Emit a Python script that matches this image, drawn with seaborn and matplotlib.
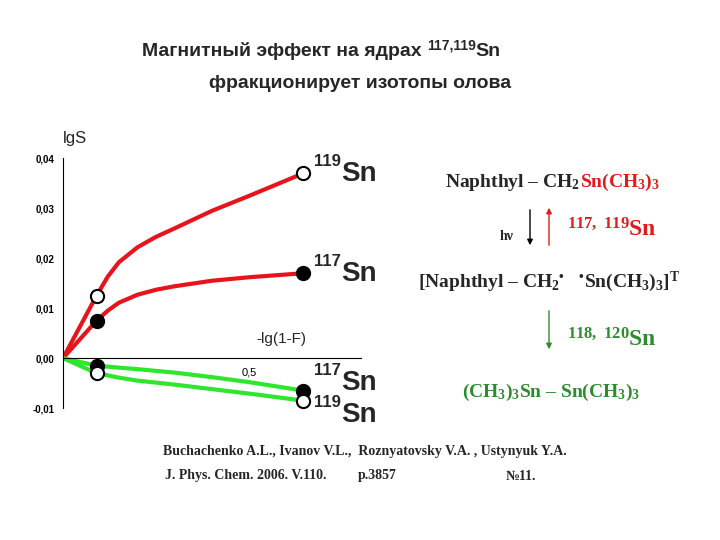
import numpy as np
import matplotlib
matplotlib.use("Agg")
import matplotlib.pyplot as plt
import seaborn as sns

x_red = [0, 0.09, 0.12, 0.15, 0.2, 0.25, 0.3, 0.4, 0.5, 0.645]
s119_red = [0, 0.0125, 0.0163, 0.0192, 0.0222, 0.0243, 0.026, 0.0295, 0.0325, 0.037]
s117_red = [0, 0.0075, 0.0095, 0.0111, 0.0127, 0.0137, 0.0144, 0.0155, 0.0162, 0.017]
x_green = [0, 0.09, 0.15, 0.2, 0.3, 0.4, 0.5, 0.645]
s117_green = [0, -0.0015, -0.0019, -0.0022, -0.0029, -0.0038, -0.0048, -0.0065]
s119_green = [0, -0.003, -0.0039, -0.0045, -0.0053, -0.0062, -0.0071, -0.0085]
marker_idx = [1, -1]
yticks = [-0.01, 0.0, 0.01, 0.02, 0.03, 0.04]
ytick_labels = ["-0,01", "0,00", "0,01", "0,02", "0,03", "0,04"]

sns.set_style("white")
plt.rcParams['font.family'] = ['Liberation Sans', 'DejaVu Sans']
plt.rcParams['mathtext.fontset'] = 'custom'
plt.rcParams['mathtext.rm'] = 'Liberation Serif:bold'
plt.rcParams['mathtext.it'] = 'Liberation Serif:bold'
plt.rcParams['mathtext.bf'] = 'Liberation Serif:bold'

fig = plt.figure(figsize=(7.2, 5.4), dpi=100)
ax = fig.add_axes([63 / 720, 0.235, 298 / 720, 0.481])

red, green = "#e8141c", "#2ee62e"
for xs, ys, c in [(x_red, s119_red, red), (x_red, s117_red, red),
                  (x_green, s117_green, green), (x_green, s119_green, green)]:
    sns.lineplot(x=xs, y=ys, ax=ax, color=c, lw=3, solid_joinstyle="round")

for xs, ys, filled in [(x_red, s119_red, False), (x_red, s117_red, True),
                       (x_green, s117_green, True), (x_green, s119_green, False)]:
    px = [xs[i] for i in marker_idx]
    py = [ys[i] for i in marker_idx]
    ax.scatter(px, py, s=90, zorder=5, facecolor="black" if filled else "white",
               edgecolor="black", linewidth=1.5, clip_on=False)

ax.set_xlim(0, 0.8)
ax.set_ylim(-0.011, 0.041)
for s in ["top", "right"]:
    ax.spines[s].set_visible(False)
ax.spines["bottom"].set_position(("data", 0))
ax.spines["left"].set_bounds(-0.01, 0.04)
for s in ["left", "bottom"]:
    ax.spines[s].set_color("black")
    ax.spines[s].set_linewidth(0.8)
ax.set_yticks(yticks)
ax.set_yticklabels(ytick_labels, fontsize=7, fontweight="bold")
ax.set_xticks([0.2, 0.3, 0.4, 0.5, 0.6, 0.7])
ax.set_xticklabels(["", "", "", "0,5", "", ""], fontsize=8)
ax.tick_params(axis="both", direction="out", length=3, width=0.8, colors="black")
ax.tick_params(axis="y", pad=3)
ax.text(0.0, 0.0425, "lgS", fontsize=12, ha="left", va="bottom")
ax.text(0.52, 0.0025, "-lg(1-F)", fontsize=11, ha="left", va="bottom")


def chain(first, pieces):
    # place text pieces one after another, each relative to the previous one
    prev = first
    for s, size, dy, kw in pieces:
        prev = ax.annotate(s, xy=(1, 0), xycoords=prev, xytext=(0, dy),
                           textcoords="offset points", va="bottom", ha="left",
                           fontsize=size, annotation_clip=False, **kw)
    return prev


def sn_label(x, y, mass):
    t = ax.text(x, y + 0.0008, mass, fontsize=12, fontweight="bold", ha="left", va="bottom", clip_on=False)
    chain(t, [("Sn", 20, -13, dict(fontweight="bold"))])


sn_label(0.675, 0.037, "119")
sn_label(0.675, 0.017, "117")
sn_label(0.675, -0.0047, "117")
sn_label(0.675, -0.0112, "119")

t = fig.text(142 / 720, 0.888, "Магнитный эффект на ядрах ", ha="left", va="bottom", fontsize=14, fontweight="bold")
chain(t, [("117,119", 10, 6, dict(fontweight="bold")), ("Sn", 14, -6, dict(fontweight="bold"))])
fig.text(0.5, 0.845, "фракционирует изотопы олова", ha="center", va="center", fontsize=14, fontweight="bold")

serif = ['Liberation Serif', 'DejaVu Serif']
dred, dgreen = "#e01b1b", "#2e8b2e"
t = fig.text(445 / 720, 1 - 193 / 540, "Naphthyl – CH$_2$", family=serif, fontsize=14, fontweight="bold", va="bottom")
chain(t, [("Sn(CH$_3$)$_3$", 14, 0, dict(family=serif, fontweight="bold", color=dred))])
fig.text(500 / 720, 1 - 237 / 540, "hν", family=serif, fontsize=10, fontweight="bold", va="center")
fig.text(567 / 720, 1 - 230 / 540, "$^{117,\\ 119}$Sn", family=serif, fontsize=17, fontweight="bold", va="center", color=dred)
fig.text(418 / 720, 1 - 282 / 540, "[Naphthyl – CH$_2$$^•$   $^•$Sn(CH$_3$)$_3$]$^\\mathrm{T}$",
         family=serif, fontsize=14, fontweight="bold", va="center")
fig.text(567 / 720, 1 - 340 / 540, "$^{118,\\ 120}$Sn", family=serif, fontsize=17, fontweight="bold", va="center", color=dgreen)
fig.text(462 / 720, 1 - 392 / 540, "(CH$_3$)$_3$Sn – Sn(CH$_3$)$_3$", family=serif, fontsize=14, fontweight="bold", va="center", color=dgreen)

for (x0, y0, x1, y1, c) in [(530, 207, 530, 248, "black"), (549, 248, 549, 205, dred), (549, 308, 549, 352, dgreen)]:
    fig.patches.append(matplotlib.patches.FancyArrowPatch((x0 / 720, 1 - y0 / 540), (x1 / 720, 1 - y1 / 540),
                       transform=fig.transFigure, arrowstyle="-|>", mutation_scale=8, color=c, lw=1))

fig.text(163 / 720, 1 - 452 / 540, "Buchachenko A.L., Ivanov V.L.,  Roznyatovsky V.A. , Ustynyuk Y.A.",
         family=serif, fontsize=10, fontweight="bold", va="center")
fig.text(165 / 720, 1 - 476 / 540, "J. Phys. Chem. 2006. V.110.", family=serif, fontsize=10, fontweight="bold", va="center")
fig.text(358 / 720, 1 - 476 / 540, "p.3857", family=serif, fontsize=10, fontweight="bold", va="center")
fig.text(506 / 720, 1 - 476 / 540, "№11.", family=serif, fontsize=10, fontweight="bold", va="center")

fig.savefig("out.png", dpi=100)
